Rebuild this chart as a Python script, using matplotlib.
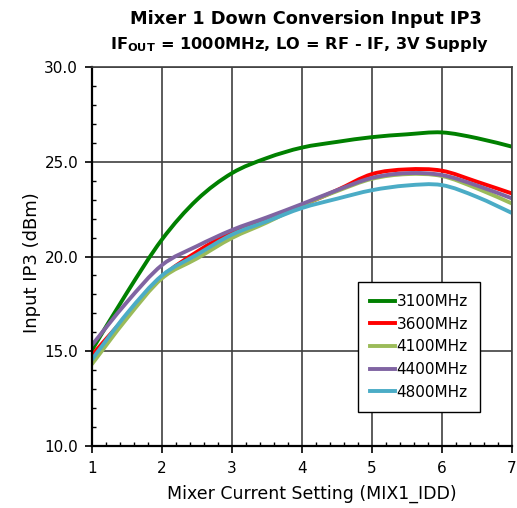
import matplotlib

matplotlib.use("Agg")
import matplotlib.pyplot as plt
from matplotlib.lines import Line2D
from matplotlib.patches import PathPatch
from matplotlib.path import Path
from matplotlib.ticker import MultipleLocator, FormatStrFormatter

plt.rcParams["font.family"] = ["DejaVu Sans"]

# mixer current setting
mix_idd = [1, 1.5, 2, 2.5, 3, 3.5, 4, 4.5, 5, 5.5, 6, 6.5, 7]

# input IP3 (dBm) per RF frequency
ip3_3100 = [15.07, 18.1, 20.9, 23.0, 24.4, 25.2, 25.75, 26.05, 26.3, 26.45, 26.55, 26.25, 25.8]
ip3_3600 = [14.8, 16.9, 18.93, 20.25, 21.3, 22.0, 22.7, 23.5, 24.35, 24.6, 24.53, 23.95, 23.33]
ip3_4100 = [14.33, 16.74, 18.85, 19.9, 20.98, 21.8, 22.7, 23.45, 24.1, 24.35, 24.25, 23.6, 22.8]
ip3_4400 = [15.33, 17.6, 19.55, 20.55, 21.4, 22.07, 22.77, 23.5, 24.15, 24.4, 24.3, 23.75, 23.07]
ip3_4800 = [14.57, 17.0, 19.0, 20.1, 21.16, 21.86, 22.56, 23.05, 23.5, 23.75, 23.77, 23.15, 22.3]

labels = ["3100MHz", "3600MHz", "4100MHz", "4400MHz", "4800MHz"]
colors = ["#008000", "#ff0000", "#9bbb59", "#8064a2", "#4bacc6"]
series = [ip3_3100, ip3_3600, ip3_4100, ip3_4400, ip3_4800]


def smooth_path(xs, ys):
    # Excel style smoothed line: Catmull-Rom segments as cubic beziers
    pts = list(zip(xs, ys))
    verts = [pts[0]]
    codes = [Path.MOVETO]
    n = len(pts)
    for i in range(n - 1):
        p0 = pts[max(i - 1, 0)]
        p1 = pts[i]
        p2 = pts[i + 1]
        p3 = pts[min(i + 2, n - 1)]
        c1 = (p1[0] + (p2[0] - p0[0]) / 6, p1[1] + (p2[1] - p0[1]) / 6)
        c2 = (p2[0] - (p3[0] - p1[0]) / 6, p2[1] - (p3[1] - p1[1]) / 6)
        verts += [c1, c2, p2]
        codes += [Path.CURVE4] * 3
    return Path(verts, codes)


fig = plt.figure(figsize=(5.17, 5.08), dpi=100)
ax = fig.add_axes([0.178, 0.122, 0.812, 0.746])

handles = []
for ys, lab, c in zip(series, labels, colors):
    patch = PathPatch(smooth_path(mix_idd, ys), facecolor="none", edgecolor=c,
                      lw=2.8, capstyle="round", joinstyle="round", transform=ax.transData)
    ax.add_patch(patch)
    handles.append(Line2D([], [], color=c, lw=2.8, label=lab))

ax.set_xlim(1, 7)
ax.set_ylim(10, 30)
ax.xaxis.set_major_locator(MultipleLocator(1))
ax.xaxis.set_minor_locator(MultipleLocator(0.2))
ax.yaxis.set_major_locator(MultipleLocator(5))
ax.yaxis.set_minor_locator(MultipleLocator(1))
ax.yaxis.set_major_formatter(FormatStrFormatter("%.1f"))
ax.set_axisbelow(True)
ax.grid(True, which="major", color="#404040", lw=1.2)
ax.tick_params(which="major", direction="out", length=5, width=1.2, labelsize=11, pad=6)
ax.tick_params(axis="y", which="major", pad=5)
ax.tick_params(which="minor", direction="in", length=3, width=1)

for side in ["left", "bottom"]:
    ax.spines[side].set_color("black")
    ax.spines[side].set_linewidth(1.6)
for side in ["top", "right"]:
    ax.spines[side].set_color("#404040")
    ax.spines[side].set_linewidth(1.2)

ax.set_xlabel("Mixer Current Setting (MIX1_IDD)", fontsize=12.5, labelpad=6)
ax.set_ylabel("Input IP3 (dBm)", fontsize=13, labelpad=2)
ax.xaxis.label.set_x(0.524)
ax.yaxis.label.set_y(0.485)

fig.text(0.592, 0.963, "Mixer 1 Down Conversion Input IP3", ha="center", va="center",
         fontsize=12.8, fontweight="bold")
fig.text(0.58, 0.913, r"IF$_{\mathbf{OUT}}$ = 1000MHz, LO = RF - IF, 3V Supply",
         ha="center", va="center", fontsize=11.7, fontweight="bold")

leg = ax.legend(handles=handles, loc="upper left", bbox_to_anchor=(0.633, 0.433), fontsize=11,
                frameon=True, fancybox=False, edgecolor="black", handlelength=1.65,
                handletextpad=0.1, labelspacing=0.5, borderpad=0.8, borderaxespad=0)
leg.get_frame().set_linewidth(1.0)
leg.get_frame().set_alpha(1)

fig.savefig("out.png", dpi=100)
